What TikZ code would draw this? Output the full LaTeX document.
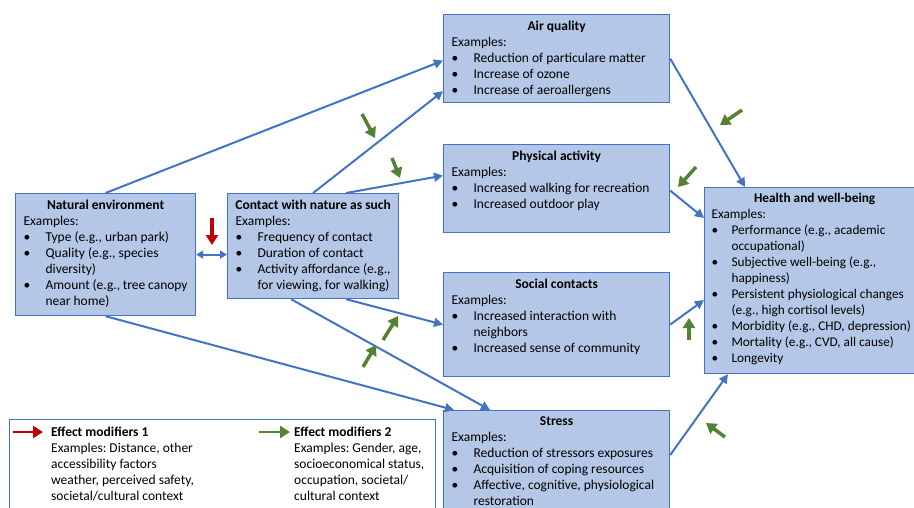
\documentclass[tikz,border=0pt]{standalone}
\usepackage{fontspec}
\setmainfont{Carlito}
\usepackage{tikz}
\usetikzlibrary{
  arrows.meta,
  positioning,
  calc
}
\definecolor{boxblue}{RGB}{68,114,196}
\definecolor{boxfill}{RGB}{180,199,231}
\definecolor{modgreen}{RGB}{84,130,53}
\definecolor{modred}{RGB}{192,0,0}
\tikzset{
  pathbox/.style={draw=boxblue, fill=boxfill, line width=1.2pt,
    anchor=north west, inner xsep=8pt, inner ysep=0pt},
  legbox/.style={draw=boxblue, line width=1pt, anchor=north west,
    minimum width=426pt, minimum height=100pt, inner sep=0pt},
  legtext/.style={anchor=north west, inner sep=0pt, align=left,
    font=\fontsize{13.5}{16}\selectfont\frenchspacing},
  arr/.style={-{Triangle[length=9pt,width=9pt]}, line width=2pt, draw=boxblue},
  dblarr/.style={{Triangle[length=7pt,width=8pt]}-{Triangle[length=7pt,width=8pt]},
    line width=2pt, draw=boxblue},
  modarr/.style={-{Triangle[length=10pt,width=12pt]}, line width=3.5pt, draw=modgreen},
  redarr/.style={-{Triangle[length=10pt,width=12pt]}, line width=3.5pt, draw=modred},
}
\newlength{\bulhang}
\setlength{\bulhang}{22pt}
\newcommand{\boxtext}[3]{\parbox[c][#1][t]{#2}{\fontsize{13.5}{16}\selectfont
  \frenchspacing\raggedright\vspace*{6pt}#3}}
\newcommand{\boxtitle}[1]{\centerline{\bfseries #1}}
\newcommand{\bul}[1]{\par\hangindent=\bulhang\hangafter=1\makebox[\bulhang][l]{\textbullet}#1\par}

\begin{document}
\begin{tikzpicture}[x=1pt, y=-1pt]
  \useasboundingbox (0,0) rectangle (914,507);
  \clip (0,0) rectangle (914,507);

  % pathway boxes
  \node[pathbox] (nat) at (15,193) {\boxtext{122pt}{164pt}{%
    \boxtitle{Natural environment}
    Examples:
    \bul{Type (e.g., urban park)}
    \bul{Quality (e.g., species\newline diversity)}
    \bul{Amount (e.g., tree canopy\newline near home)}}};
  \node[pathbox] (contact) at (227,193) {\boxtext{105pt}{155pt}{%
    \boxtitle{Contact with nature as such}
    Examples:
    \bul{Frequency of contact}
    \bul{Duration of contact}
    \bul{Activity affordance (e.g.,\newline for viewing, for walking)}}};
  \node[pathbox] (air) at (443,14) {\boxtext{88pt}{210pt}{%
    \boxtitle{Air quality}
    Examples:
    \bul{Reduction of particulare matter}
    \bul{Increase of ozone}
    \bul{Increase of aeroallergens}}};
  \node[pathbox] (phys) at (443,144) {\boxtext{88pt}{210pt}{%
    \boxtitle{Physical activity}
    Examples:
    \bul{Increased walking for recreation}
    \bul{Increased outdoor play}}};
  \node[pathbox] (social) at (443,272) {\boxtext{104pt}{210pt}{%
    \boxtitle{Social contacts}
    Examples:
    \bul{Increased interaction with\newline neighbors}
    \bul{Increased sense of community}}};
  \node[pathbox] (stress) at (443,410) {\boxtext{110pt}{210pt}{%
    \boxtitle{Stress}
    Examples:
    \bul{Reduction of stressors exposures}
    \bul{Acquisition of coping resources}
    \bul{Affective, cognitive, physiological\newline restoration}}};
  \node[pathbox, inner xsep=7pt] (health) at (704,187) {\boxtext{186pt}{206pt}{%
    \fontsize{13.3}{16}\selectfont\setlength{\bulhang}{20pt}%
    \boxtitle{Health and well-being}
    Examples:
    \bul{Performance (e.g., academic\newline occupational)}
    \bul{Subjective well-being (e.g.,\newline happiness)}
    \bul{Persistent physiological changes\newline (e.g., high cortisol levels)}
    \bul{Morbidity (e.g., CHD, depression)}
    \bul{Mortality (e.g., CVD, all cause)}
    \bul{Longevity}}};

  % legend
  \node[legbox] (legend) at (9,419) {};
  \node[legtext] (mod1) at (51,427)
    {\textbf{Effect modifiers 1}\\Examples: Distance, other\\accessibility factors\\weather, perceived safety,\\societal/cultural context};
  \node[legtext] (mod2) at (294,427)
    {\textbf{Effect modifiers 2}\\Examples: Gender, age,\\socioeconomical status,\\occupation, societal/\\cultural context};
  \draw[redarr, line width=2.5pt] ([xshift=-38pt, yshift=-5pt]mod1.north west) -- ([xshift=-8pt, yshift=-5pt]mod1.north west);
  \draw[modarr, line width=2.5pt] ([xshift=-35pt, yshift=-5pt]mod2.north west) -- ([xshift=-4pt, yshift=-5pt]mod2.north west);

  % pathways
  \draw[dblarr] (nat.east) -- (nat.east -| contact.west);
  \draw[arr] (nat.north) -- ([yshift=-2pt]air.west);
  \draw[arr] (contact.north) -- ([yshift=12pt]air.south west);
  \draw[arr] ([xshift=33pt]contact.north) -- ([yshift=13pt]phys.west);
  \draw[arr] ([xshift=33pt]contact.south) -- (social.west);
  \draw[arr] ([xshift=-22pt]contact.south) -- ([xshift=47pt]stress.north west);
  \draw[arr] (nat.south) -- ([xshift=11pt]stress.north west);
  \draw[arr] (air.east) -- ([xshift=41pt]health.north west);
  \draw[arr] ([yshift=-2pt]phys.east) -- ([yshift=-31pt]health.north west);
  \draw[arr] (social.east) -- ([yshift=-113pt]health.north west);
  \draw[arr] ([yshift=-45pt]stress.north east) -- ([xshift=24pt]health.south west);

  % effect modifiers
  \coordinate (r1) at (212,218);
  \draw[redarr] (r1) -- ++(0,27);
  \coordinate (g1) at (362,114);
  \draw[modarr] (g1) -- ++(13,24);
  \coordinate (g2) at (392,158);
  \draw[modarr] (g2) -- ++(8,20);
  \coordinate (g3) at (742,110);
  \draw[modarr] (g3) -- ++(-22,15);
  \coordinate (g4) at (696,167);
  \draw[modarr] (g4) -- ++(-18,20);
  \coordinate (g5) at (383,340);
  \draw[modarr] (g5) -- ++(15,-24);
  \coordinate (g6) at (363,367);
  \draw[modarr] (g6) -- ++(13,-22);
  \coordinate (g7) at (689,340);
  \draw[modarr] (g7) -- ++(0,-22);
  \coordinate (g8) at (725,437);
  \draw[modarr] (g8) -- ++(-19,-14);
\end{tikzpicture}
\end{document}
